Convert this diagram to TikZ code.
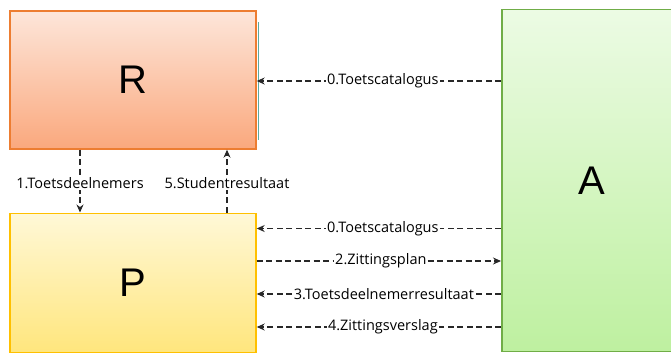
\documentclass[tikz,border=0pt]{standalone}
\usepackage{fontspec}
\setmainfont{Open Sans}
\newfontfamily\bigfont{Liberation Sans}
\usetikzlibrary{arrows.meta}
\definecolor{rborder}{RGB}{237,125,49}
\definecolor{rtop}{RGB}{253,230,218}
\definecolor{rbot}{RGB}{250,168,125}
\definecolor{pborder}{RGB}{255,192,0}
\definecolor{ptop}{RGB}{255,248,215}
\definecolor{pbot}{RGB}{255,230,125}
\definecolor{aborder}{RGB}{112,173,71}
\definecolor{atop}{RGB}{236,251,228}
\definecolor{abot}{RGB}{190,240,160}
\definecolor{lnc}{RGB}{40,40,40}
\definecolor{tealc}{RGB}{90,170,160}
\tikzset{
  box/.style={draw, line width=1.7pt, minimum width=#1, inner sep=0pt, font=\bigfont\fontsize{40}{40}\selectfont},
  flow/.style={draw=lnc, line width=1.1pt, dash pattern=on 6pt off 3.5pt, -{Stealth[length=8pt,width=7pt]}},
  lbl/.style={fill=white, inner sep=1pt, font=\fontsize{14.5}{16}\selectfont, text=black}
}
\begin{document}
\begin{tikzpicture}[x=1pt,y=-1pt]
\useasboundingbox (0,0) rectangle (671,354);
% boxes
\node[box=246pt, minimum height=138pt, draw=rborder, top color=rtop, bottom color=rbot, anchor=north west] (R) at (9,10) {R};
\node[box=246pt, minimum height=139pt, draw=pborder, top color=ptop, bottom color=pbot, anchor=north west] (P) at (9,212.5) {P};
\node[box=180pt, minimum height=342pt, draw=aborder, top color=atop, bottom color=abot, anchor=north west] (A) at (501,8.5) {A};
\draw[tealc, line width=1.4pt] ([xshift=1.8pt,yshift=-12pt]R.north east) -- ([xshift=1.8pt,yshift=10pt]R.south east);
% coordinates
\coordinate (r0) at (R.east |- 0,81);
\coordinate (a0) at (A.west |- 0,81);
\coordinate (p0) at (P.east |- 0,228.5);
\coordinate (a1) at (A.west |- 0,228.5);
\coordinate (p2) at (P.east |- 0,261);
\coordinate (a2) at (A.west |- 0,261);
\coordinate (p3) at (P.east |- 0,294);
\coordinate (a3) at (A.west |- 0,294);
\coordinate (p4) at (P.east |- 0,327);
\coordinate (a4) at (A.west |- 0,327);
\coordinate (rd) at (R.south west -| 80,0);
\coordinate (pd) at (P.north west -| 80,0);
\coordinate (ru) at (R.south west -| 227,0);
\coordinate (pu) at (P.north west -| 227,0);
% flows
\draw[flow] (a0) -- node[lbl, xshift=4pt] {0.Toetscatalogus} (r0);
\draw[flow] (a1) -- node[lbl, xshift=4pt] {0.Toetscatalogus} (p0);
\draw[flow] (p2) -- node[lbl, xshift=2pt] {2.Zittingsplan} (a2);
\draw[flow] (a3) -- node[lbl, xshift=5pt] {3.Toetsdeelnemerresultaat} (p3);
\draw[flow] (a4) -- node[lbl, xshift=4pt] {4.Zittingsverslag} (p4);
\draw[flow] (rd) -- node[lbl, pos=0.53] {1.Toetsdeelnemers} (pd);
\draw[flow] (pu) -- node[lbl, pos=0.47] {5.Studentresultaat} (ru);
\end{tikzpicture}
\end{document}
